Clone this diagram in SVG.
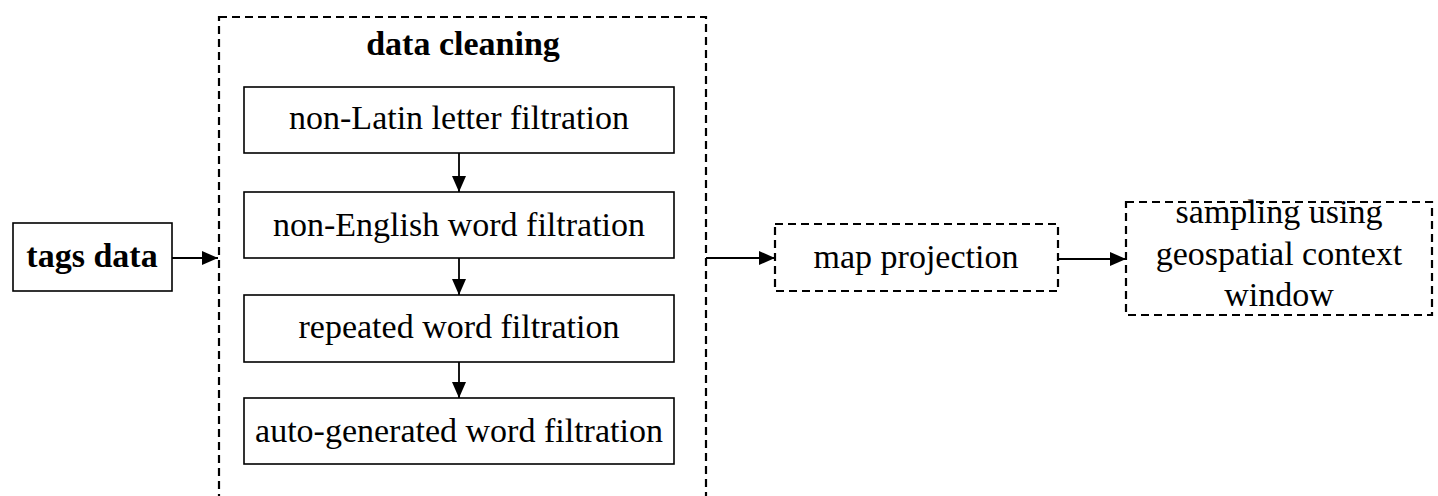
<svg xmlns="http://www.w3.org/2000/svg" width="1438" height="496" viewBox="0 0 1438 496">
<style>
.solid{fill:#fff;stroke:#000;stroke-width:1.6}
.dash{fill:none;stroke:#000;stroke-width:2.2;stroke-dasharray:8 5}
.t{font-family:"Liberation Serif","Times New Roman",serif;font-size:34px;fill:#000;text-anchor:middle}
.b{font-weight:bold}
.c{stroke:#000;stroke-width:1.8;fill:none}
</style>
<defs>
<marker id="ah" markerWidth="16" markerHeight="14" refX="16" refY="7" orient="auto" markerUnits="userSpaceOnUse">
<path d="M0,0 L16,7 L0,14 Z" fill="#000"/>
</marker>
</defs>
<rect width="1438" height="496" fill="#fff"/>
<g id="data-cleaning">
<rect class="dash" x="219" y="17" width="487" height="490"/>
<text class="t b" x="463" y="55">data cleaning</text>
</g>
<g id="tags-data">
<rect class="solid" x="13" y="223" width="159" height="68"/>
<text class="t b" x="92" y="267">tags data</text>
</g>
<g id="non-latin">
<rect class="solid" x="244" y="87" width="430" height="66"/>
<text class="t" x="459" y="129">non-Latin letter filtration</text>
</g>
<g id="non-english">
<rect class="solid" x="244" y="192" width="430" height="66"/>
<text class="t" x="459" y="236">non-English word filtration</text>
</g>
<g id="repeated">
<rect class="solid" x="244" y="295" width="430" height="67"/>
<text class="t" x="459" y="338">repeated word filtration</text>
</g>
<g id="auto-generated">
<rect class="solid" x="244" y="398" width="430" height="66"/>
<text class="t" x="459" y="442">auto-generated word filtration</text>
</g>
<g id="map-projection">
<rect class="dash" x="775" y="224" width="283" height="67"/>
<text class="t" x="916" y="268">map projection</text>
</g>
<g id="sampling">
<rect class="dash" x="1126" y="202" width="306" height="113"/>
<text class="t" x="1279" y="223">sampling using</text>
<text class="t" x="1279" y="265">geospatial context</text>
<text class="t" x="1279" y="306">window</text>
</g>
<g id="connectors">
<line class="c" x1="172" y1="258" x2="218" y2="258" marker-end="url(#ah)"/>
<line class="c" x1="459" y1="153" x2="459" y2="192" marker-end="url(#ah)"/>
<line class="c" x1="459" y1="258" x2="459" y2="295" marker-end="url(#ah)"/>
<line class="c" x1="459" y1="362" x2="459" y2="398" marker-end="url(#ah)"/>
<line class="c" x1="706" y1="258" x2="775" y2="258" marker-end="url(#ah)"/>
<line class="c" x1="1058" y1="259" x2="1126" y2="259" marker-end="url(#ah)"/>
</g>
</svg>
